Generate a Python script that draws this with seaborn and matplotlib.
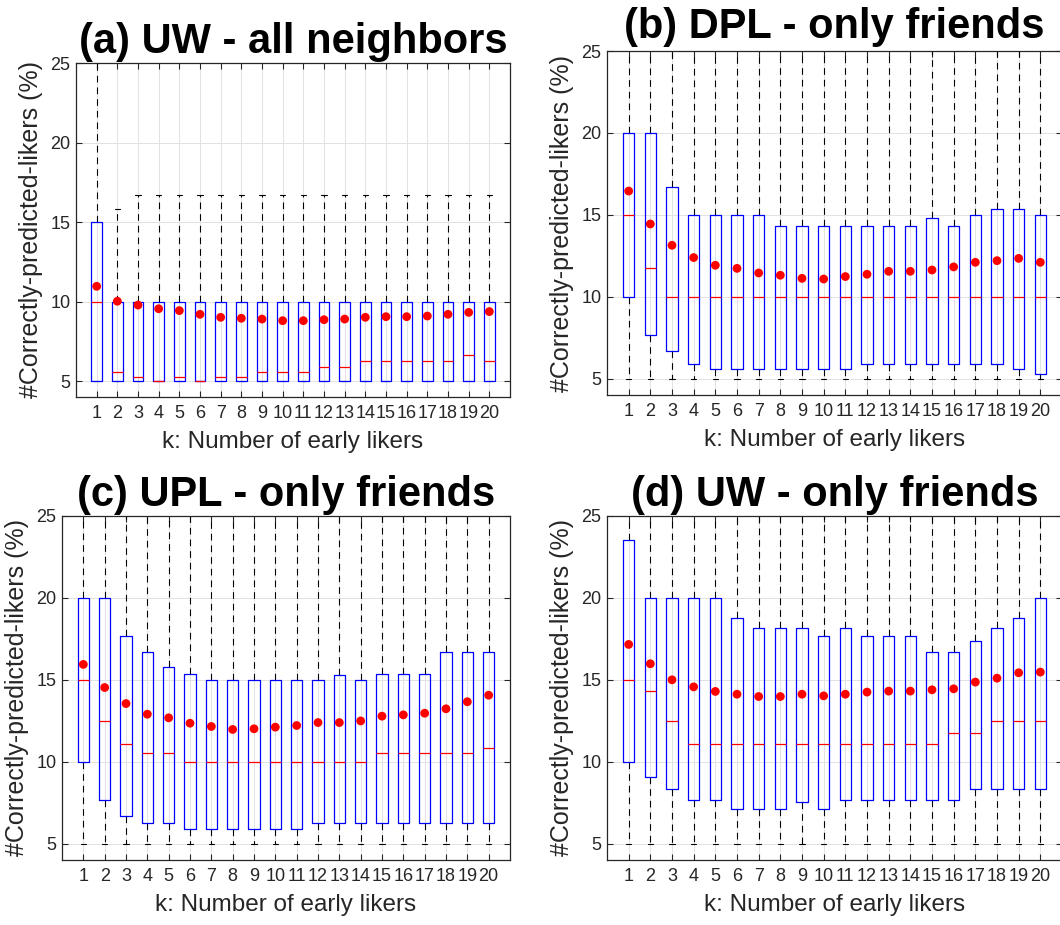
import matplotlib
matplotlib.use("Agg")
import matplotlib.pyplot as plt
import seaborn as sns
import pandas as pd

# k: number of early likers
k = [1, 2, 3, 4, 5, 6, 7, 8, 9, 10, 11, 12, 13, 14, 15, 16, 17, 18, 19, 20]
yticks = [5, 10, 15, 20, 25]

# (a) UW - all neighbors
a_q1 = [5, 5, 5, 5, 5, 5, 5, 5, 5, 5, 5, 5, 5, 5, 5, 5, 5, 5, 5, 5]
a_q3 = [15, 10, 10, 10, 10, 10, 10, 10, 10, 10, 10, 10, 10, 10, 10, 10, 10, 10, 10, 10]
a_med = [10, 5.56, 5.26, 5.0, 5.26, 5.0, 5.26, 5.26, 5.56, 5.56,
         5.56, 5.88, 5.88, 6.25, 6.25, 6.25, 6.25, 6.25, 6.67, 6.25]
a_mean = [10.96, 10.02, 9.78, 9.55, 9.43, 9.20, 9.01, 8.95, 8.90, 8.80,
          8.80, 8.86, 8.90, 9.01, 9.05, 9.05, 9.09, 9.20, 9.32, 9.37]
a_wlo = [5, 5, 5, 5, 5, 5, 5, 5, 5, 5, 5, 5, 5, 5, 5, 5, 5, 5, 5, 5]
a_whi = [30, 15.79, 16.67, 16.67, 16.67, 16.67, 16.67, 16.67, 16.67, 16.67,
         16.67, 16.67, 16.67, 16.67, 16.67, 16.67, 16.67, 16.67, 16.67, 16.67]

# (b) DPL - only friends
b_q1 = [10, 7.69, 6.67, 5.88, 5.56, 5.56, 5.56, 5.56, 5.56, 5.56,
        5.56, 5.88, 5.88, 5.88, 5.88, 5.88, 5.88, 5.88, 5.56, 5.26]
b_q3 = [20, 20, 16.67, 15, 15, 15, 15, 14.29, 14.29, 14.29,
        14.29, 14.29, 14.29, 14.29, 14.81, 14.29, 15, 15.38, 15.38, 15]
b_med = [15, 11.76, 10, 10, 10, 10, 10, 10, 10, 10, 10, 10, 10, 10, 10, 10, 10, 10, 10, 10]
b_mean = [16.45, 14.44, 13.14, 12.39, 11.92, 11.73, 11.45, 11.31, 11.12, 11.08,
          11.23, 11.37, 11.55, 11.55, 11.63, 11.82, 12.10, 12.20, 12.34, 12.10]
b_wlo = [5, 5, 5, 5, 5, 5, 5, 5, 5, 5, 5, 5, 5, 5, 5, 5, 5, 5, 5, 5]
b_whi = [30, 30, 30, 30, 30, 30, 30, 30, 30, 30, 30, 30, 30, 30, 30, 30, 30, 30, 30, 30]

# (c) UPL - only friends
c_q1 = [10, 7.69, 6.67, 6.25, 6.25, 5.88, 5.88, 5.88, 5.88, 5.88,
        5.88, 6.25, 6.25, 6.25, 6.25, 6.25, 6.25, 6.25, 6.25, 6.25]
c_q3 = [20, 20, 17.65, 16.67, 15.79, 15.38, 15, 15, 15, 15,
        15, 15, 15.29, 15, 15.38, 15.38, 15.38, 16.67, 16.67, 16.67]
c_med = [15, 12.5, 11.11, 10.53, 10.53, 10, 10, 10, 10, 10,
         10, 10, 10, 10, 10.53, 10.53, 10.53, 10.53, 10.53, 10.81]
c_mean = [15.94, 14.53, 13.55, 12.90, 12.68, 12.35, 12.15, 11.97, 12.01, 12.11,
          12.21, 12.39, 12.39, 12.49, 12.78, 12.86, 12.96, 13.23, 13.66, 14.06]
c_wlo = [5, 5, 5, 5, 5, 5, 5, 5, 5, 5, 5, 5, 5, 5, 5, 5, 5, 5, 5, 5]
c_whi = [30, 30, 30, 30, 30, 30, 30, 30, 30, 30, 30, 30, 30, 30, 30, 30, 30, 30, 30, 30]

# (d) UW - only friends
d_q1 = [10, 9.09, 8.33, 7.69, 7.69, 7.14, 7.14, 7.14, 7.55, 7.14,
        7.69, 7.69, 7.69, 7.69, 7.69, 7.69, 8.33, 8.33, 8.33, 8.33]
d_q3 = [23.53, 20, 20, 20, 20, 18.75, 18.18, 18.18, 18.18, 17.65,
        18.18, 17.65, 17.65, 17.65, 16.67, 16.67, 17.39, 18.18, 18.75, 20]
d_med = [15, 14.29, 12.5, 11.11, 11.11, 11.11, 11.11, 11.11, 11.11, 11.11,
         11.11, 11.11, 11.11, 11.11, 11.11, 11.76, 11.76, 12.5, 12.5, 12.5]
d_mean = [17.16, 15.98, 15.0, 14.57, 14.29, 14.12, 13.98, 13.98, 14.12, 14.02,
          14.12, 14.25, 14.31, 14.31, 14.39, 14.45, 14.86, 15.10, 15.43, 15.47]
d_wlo = [5, 5, 5, 5, 5, 5, 5, 5, 5, 5, 5, 5, 5, 5, 5, 5, 5, 5, 5, 5]
d_whi = [30, 30, 30, 30, 30, 30, 30, 30, 30, 30, 30, 30, 30, 30, 30, 30, 30, 30, 30, 30]

sns.set_theme(style="ticks")
plt.rcParams['font.family'] = ['Liberation Sans', 'DejaVu Sans']

fig = plt.figure(figsize=(10.6, 9.25), dpi=100)

W, H = 1060.0, 925.0


def rect(left, top, right, bottom):
    return [left / W, 1 - bottom / H, (right - left) / W, (bottom - top) / H]


def draw_panel(ax, title, q1, med, q3, wlo, whi, mean, pad):
    stats = []
    for i in range(len(k)):
        stats.append(dict(med=med[i], q1=q1[i], q3=q3[i],
                          whislo=wlo[i], whishi=whi[i], fliers=[]))
    ax.bxp(stats, positions=k, widths=0.52, capwidths=0.25,
           showfliers=False, manage_ticks=False,
           boxprops=dict(color='blue', lw=0.9, zorder=2.2),
           medianprops=dict(color='red', lw=0.9, zorder=2.4),
           whiskerprops=dict(color='black', lw=0.8, linestyle=(0, (6, 4.5)), zorder=2),
           capprops=dict(color='black', lw=0.8, zorder=2))

    df = pd.DataFrame({'k': k, 'mean': mean})
    sns.scatterplot(data=df, x='k', y='mean', color='red', s=40,
                    edgecolor='none', ax=ax, zorder=5)

    ax.set_xlim(0, 21)
    ax.set_ylim(4, 25)
    ax.set_xticks(k)
    ax.set_xticklabels([str(v) for v in k])
    ax.set_yticks(yticks)
    ax.grid(True, color='#e2e2e2', lw=0.7)
    ax.set_axisbelow(True)
    ax.tick_params(direction='in', top=True, right=True, length=4, width=0.8,
                   color='#262626', labelcolor='#262626', labelsize=13)
    ax.tick_params(axis='x', pad=6)
    ax.tick_params(axis='y', pad=4)
    for s in ax.spines.values():
        s.set_visible(True)
        s.set_color('#262626')
        s.set_linewidth(0.9)
    ax.set_xlabel("k: Number of early likers", fontsize=17.5, color='#262626', labelpad=6)
    ax.set_ylabel("#Correctly-predicted-likers (%)", fontsize=18, color='#262626', labelpad=5)
    ax.set_title(title, fontsize=30, fontweight='bold', color='black', pad=pad)


ax_a = fig.add_axes(rect(76, 63, 510, 397))
ax_b = fig.add_axes(rect(607, 51, 1062, 395))
ax_c = fig.add_axes(rect(62, 516, 510, 860))
ax_d = fig.add_axes(rect(607, 516, 1062, 860))

draw_panel(ax_a, "(a) UW - all neighbors", a_q1, a_med, a_q3, a_wlo, a_whi, a_mean, 7)
draw_panel(ax_b, "(b) DPL - only friends", b_q1, b_med, b_q3, b_wlo, b_whi, b_mean, 9.5)
draw_panel(ax_c, "(c) UPL - only friends", c_q1, c_med, c_q3, c_wlo, c_whi, c_mean, 7)
draw_panel(ax_d, "(d) UW - only friends", d_q1, d_med, d_q3, d_wlo, d_whi, d_mean, 7)

fig.savefig("out.png", dpi=100)
